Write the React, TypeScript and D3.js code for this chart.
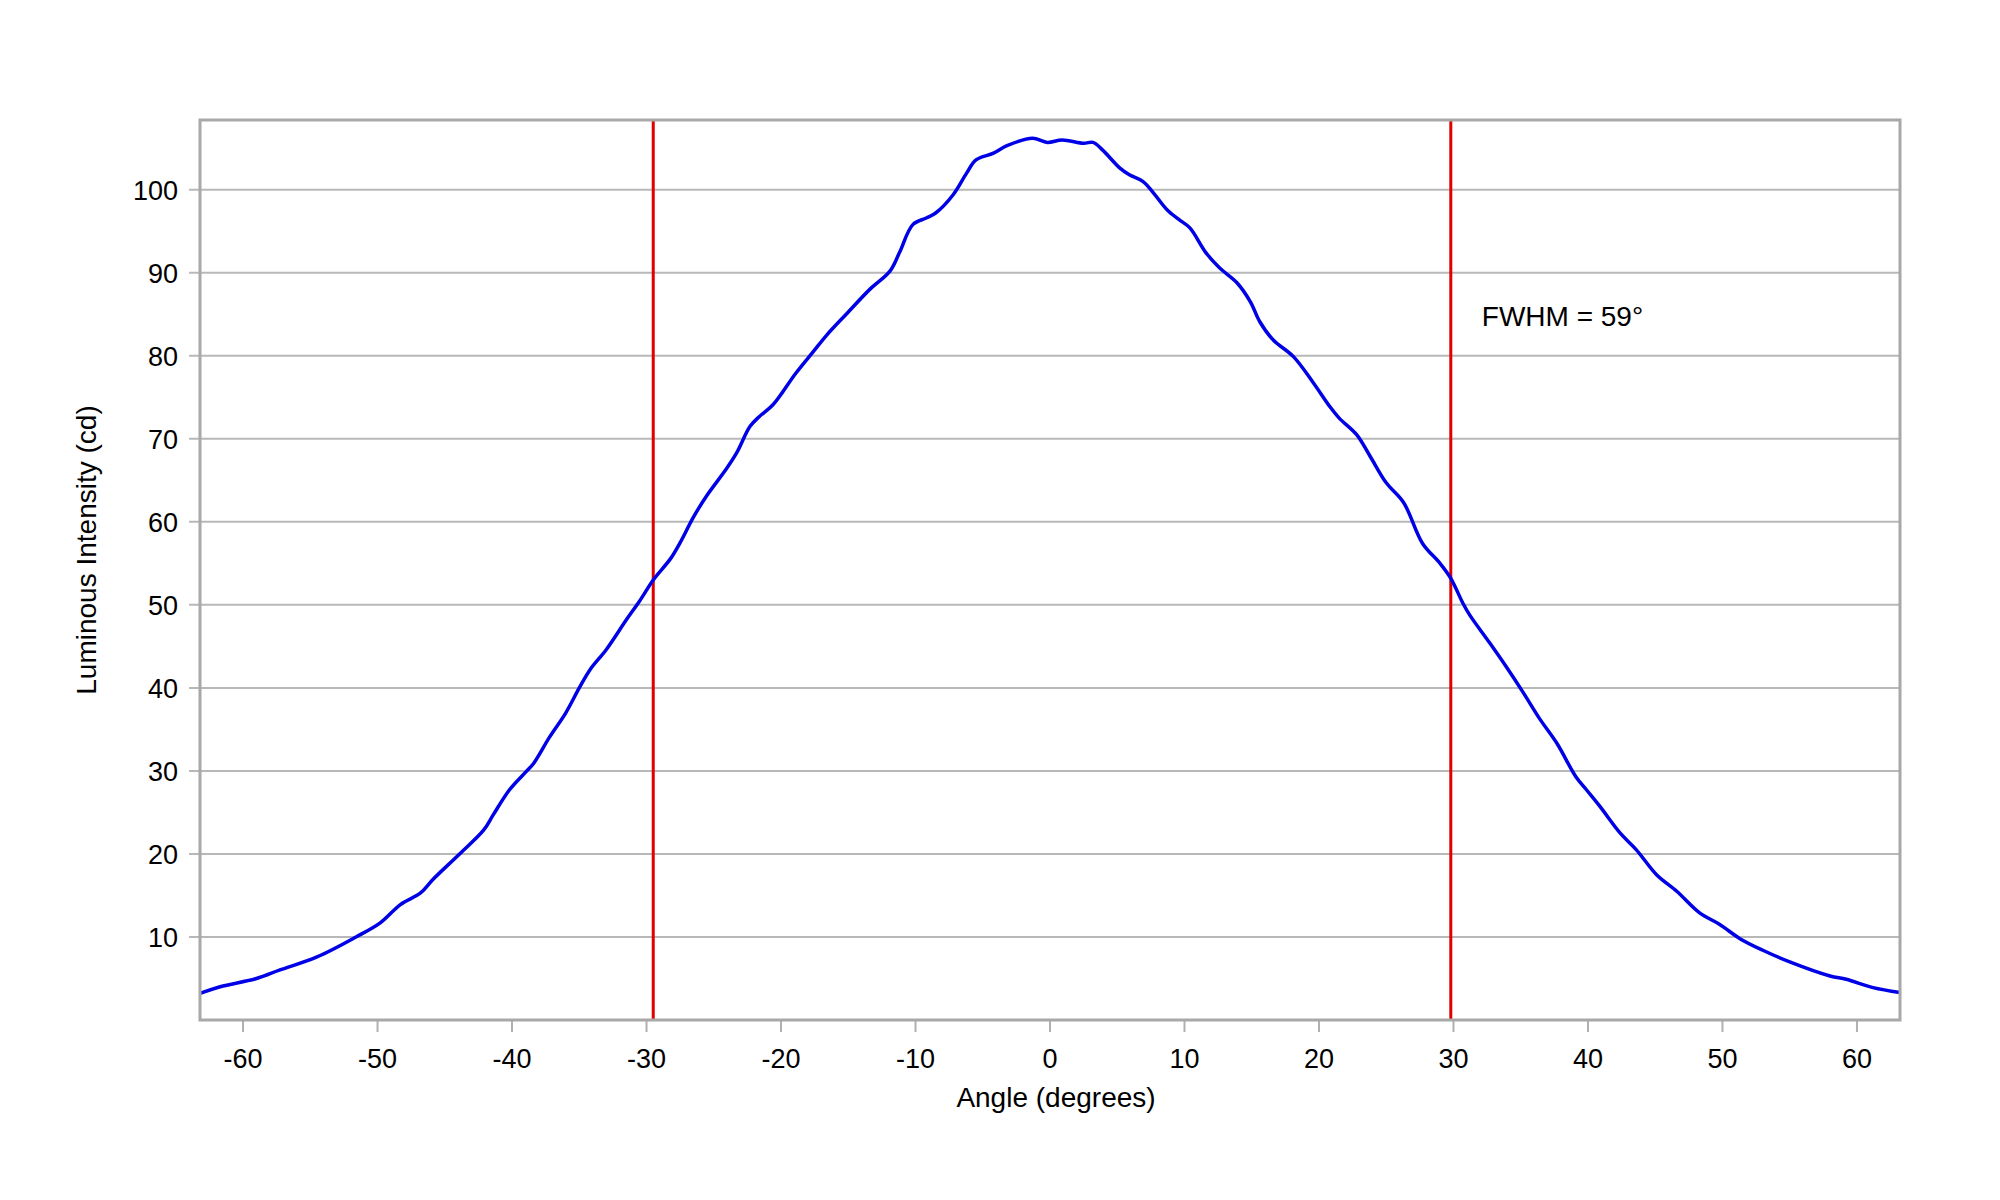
import { useEffect, useRef } from 'react';
import * as d3 from 'd3';

const angles = [
  -63.2, -61.7, -59.0, -57.3, -54.5, -51.6, -49.8, -48.3, -46.8, -45.9,
  -43.9, -42.1, -41.4, -40.2, -38.9, -38.4, -37.2, -36.0, -35.0, -34.2,
  -33.0, -31.5, -30.5, -29.5, -28.2, -27.5, -26.5, -25.5, -24.1, -23.3,
  -22.3, -21.6, -20.6, -18.9, -17.6, -16.6, -15.1, -13.4, -11.9, -11.2,
  -10.2, -9.2, -8.5, -7.2, -6.2, -5.5, -4.2, -3.2, -1.3, -0.2,
  0.9, 2.5, 3.2, 3.9, 5.2, 5.9, 6.9, 7.7, 8.7, 9.6,
  10.4, 11.6, 12.6, 13.9, 14.9, 15.6, 16.6, 18.1, 19.6, 20.8,
  21.5, 22.8, 23.8, 25.0, 26.3, 27.7, 29.0, 29.8, 30.7, 31.2,
  32.7, 33.9, 35.2, 36.4, 37.7, 39.1, 39.9, 40.9, 42.4, 43.6,
  45.1, 46.6, 48.3, 49.8, 51.3, 53.0, 55.0, 58.0, 59.2, 61.2, 63.2,
];
const intensity = [
  3.2, 4.0, 5.0, 6.0, 7.6, 10.0, 11.7, 13.9, 15.3, 16.9,
  20.0, 22.9, 24.7, 27.7, 30.0, 30.9, 34.1, 37.0, 40.0, 42.2,
  44.6, 48.2, 50.5, 53.0, 55.6, 57.5, 60.6, 63.2, 66.3, 68.3,
  71.5, 72.7, 74.1, 77.9, 80.5, 82.5, 85.1, 88.0, 90.2, 92.4,
  95.8, 96.6, 97.2, 99.4, 102.0, 103.6, 104.4, 105.3, 106.2, 105.7,
  106.0, 105.6, 105.7, 104.8, 102.6, 101.8, 101.0, 99.6, 97.6, 96.4,
  95.4, 92.4, 90.6, 88.8, 86.5, 84.1, 81.9, 79.9, 76.7, 73.9,
  72.5, 70.5, 67.9, 64.7, 62.3, 57.4, 55.0, 53.2, 50.2, 48.8,
  45.4, 42.6, 39.4, 36.3, 33.3, 29.3, 27.7, 25.7, 22.5, 20.5,
  17.5, 15.5, 12.9, 11.5, 9.8, 8.4, 7.0, 5.3, 4.9, 3.9, 3.3,
];
// half-maximum crossings
const fwhmLines = [-29.5, 29.8];
const xTicks = [-60, -50, -40, -30, -20, -10, 0, 10, 20, 30, 40, 50, 60];
const yTicks = [10, 20, 30, 40, 50, 60, 70, 80, 90, 100];

const W = 2000;
const H = 1200;
const margin = { top: 120, right: 100, bottom: 180, left: 200 };
const font = '"Liberation Sans", Arial, sans-serif';

export default function App() {
  const svgRef = useRef<SVGSVGElement>(null);

  useEffect(() => {
    if (!svgRef.current) return;
    const svg = d3.select(svgRef.current);
    svg.selectAll('*').remove();

    const x = d3.scaleLinear().domain([-63.2, 63.2]).range([margin.left, W - margin.right]);
    const y = d3.scaleLinear().domain([0, 108.4]).range([H - margin.bottom, margin.top]);
    const [x0, x1] = x.range();
    const [y0, y1] = y.range();

    svg.append('rect').attr('width', W).attr('height', H).attr('fill', '#fff');

    svg
      .append('defs')
      .append('clipPath')
      .attr('id', 'plot-clip')
      .append('rect')
      .attr('x', x0)
      .attr('y', y1)
      .attr('width', x1 - x0)
      .attr('height', y0 - y1);

    // grid
    svg
      .append('g')
      .selectAll('line')
      .data(yTicks)
      .join('line')
      .attr('x1', x0 - 11)
      .attr('x2', x1)
      .attr('y1', (d) => y(d))
      .attr('y2', (d) => y(d))
      .attr('stroke', '#b8b8b8')
      .attr('stroke-width', 2);

    svg
      .append('g')
      .selectAll('text')
      .data(yTicks)
      .join('text')
      .attr('x', x0 - 22)
      .attr('y', (d) => y(d) + 10)
      .attr('text-anchor', 'end')
      .attr('font-family', font)
      .attr('font-size', 27)
      .attr('fill', '#000')
      .text((d) => d);

    // x ticks
    svg
      .append('g')
      .selectAll('line')
      .data(xTicks)
      .join('line')
      .attr('x1', (d) => x(d))
      .attr('x2', (d) => x(d))
      .attr('y1', y0)
      .attr('y2', y0 + 12)
      .attr('stroke', '#b0b0b0')
      .attr('stroke-width', 2);

    svg
      .append('g')
      .selectAll('text')
      .data(xTicks)
      .join('text')
      .attr('x', (d) => x(d))
      .attr('y', y0 + 48)
      .attr('text-anchor', 'middle')
      .attr('font-family', font)
      .attr('font-size', 27)
      .attr('fill', '#000')
      .text((d) => d);

    // FWHM markers
    svg
      .append('g')
      .selectAll('line')
      .data(fwhmLines)
      .join('line')
      .attr('x1', (d) => x(d))
      .attr('x2', (d) => x(d))
      .attr('y1', y1)
      .attr('y2', y0)
      .attr('stroke', '#e00000')
      .attr('stroke-width', 3);

    const points = angles.map((a, i) => [a, intensity[i]] as [number, number]);
    const line = d3
      .line<[number, number]>()
      .x((d) => x(d[0]))
      .y((d) => y(d[1]))
      .curve(d3.curveCatmullRom.alpha(0.5));

    svg
      .append('path')
      .datum(points)
      .attr('clip-path', 'url(#plot-clip)')
      .attr('fill', 'none')
      .attr('stroke', '#0000e6')
      .attr('stroke-width', 3.5)
      .attr('stroke-linejoin', 'round')
      .attr('d', line);

    // frame
    svg
      .append('rect')
      .attr('x', x0)
      .attr('y', y1)
      .attr('width', x1 - x0)
      .attr('height', y0 - y1)
      .attr('fill', 'none')
      .attr('stroke', '#a8a8a8')
      .attr('stroke-width', 3);

    svg
      .append('text')
      .attr('x', x(fwhmLines[1]) + 31)
      .attr('y', 326)
      .attr('font-family', font)
      .attr('font-size', 28)
      .attr('fill', '#000')
      .text('FWHM = 59°');

    svg
      .append('text')
      .attr('x', 1056)
      .attr('y', 1107)
      .attr('text-anchor', 'middle')
      .attr('font-family', font)
      .attr('font-size', 28)
      .attr('fill', '#000')
      .text('Angle (degrees)');

    svg
      .append('text')
      .attr('transform', 'translate(96,550) rotate(-90)')
      .attr('text-anchor', 'middle')
      .attr('font-family', font)
      .attr('font-size', 28)
      .attr('fill', '#000')
      .text('Luminous Intensity (cd)');
  }, []);

  return (
    <svg
      ref={svgRef}
      width={W}
      height={H}
      style={{ position: 'absolute', left: 0, top: 0, display: 'block' }}
    />
  );
}
